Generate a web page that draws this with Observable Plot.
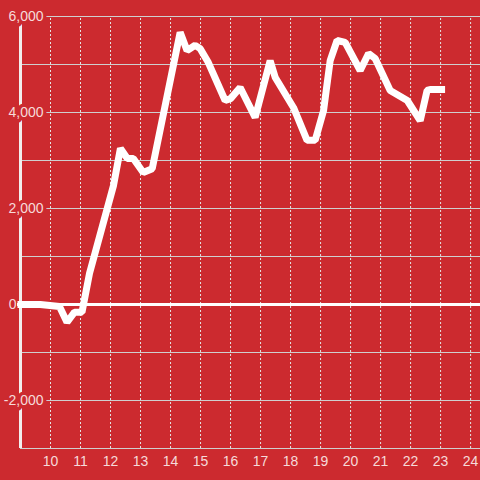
<!DOCTYPE html>
<html>
<head>
<meta charset="utf-8">
<script src="https://cdn.jsdelivr.net/npm/d3@7"></script>
<script src="https://cdn.jsdelivr.net/npm/@observablehq/plot@0.6"></script>
<style>
  html, body { margin: 0; padding: 0; background: #cc2a2f; }
</style>
</head>
<body>
<div id="chart"></div>
<script>
// Series (x = hour of day, y = value)
const hours = [8.9, 9.66, 10.3, 10.55, 10.8, 11.05, 11.3, 12.1, 12.33, 12.56, 12.76, 13.09, 13.39,
  14.32, 14.55, 14.82, 14.99, 15.26, 15.82, 16.0, 16.32, 16.82, 17.32, 17.49, 18.1, 18.55, 18.82,
  19.1, 19.32, 19.55, 19.82, 20.32, 20.6, 20.82, 21.32, 21.89, 22.32, 22.55, 22.65, 23.15];
const values = [0, 0, -40, -370, -160, -160, 650, 2480, 3250, 3040, 3040, 2750, 2830,
  5670, 5290, 5400, 5330, 5040, 4250, 4290, 4520, 3900, 5080, 4730, 4100, 3420, 3420,
  4040, 5080, 5500, 5460, 4875, 5230, 5125, 4460, 4250, 3830, 4460, 4480, 4480];

// Ticks
const xTicks = [10, 11, 12, 13, 14, 15, 16, 17, 18, 19, 20, 21, 22, 23, 24];
const yLabelTicks = [-2000, 2000, 4000, 6000];
const yTickLabels = ["-2,000", "2,000", "4,000", "6,000"];
const yMinorTicks = [-3000, -1000, 1000, 3000, 5000];

const data = hours.map((h, i) => ({x: h, y: values[i]}));
const yLabels = yLabelTicks.map((v, i) => ({v, label: yTickLabels[i]}));

const bg = "#cc2a2f";
const labelColor = "#f6dada";
const font = "Liberation Sans, Arial, sans-serif";

const chart = Plot.plot({
  width: 480,
  height: 480,
  marginLeft: 20,
  marginRight: 0,
  marginTop: 16,
  marginBottom: 32,
  style: {background: bg, fontFamily: font, overflow: "visible"},
  x: {domain: [9, 24.33], axis: null},
  y: {domain: [-3000, 6000], axis: null},
  marks: [
    Plot.ruleX(xTicks, {x: d => d, y1: -3000, y2: 6000, stroke: "#e4e4e4", strokeWidth: 1, strokeDasharray: "2,2"}),
    Plot.ruleY(yMinorTicks, {y: d => d, stroke: "#cfcfcf", strokeWidth: 1}),
    Plot.ruleY(yLabelTicks, {y: d => d, stroke: "#cfcfcf", strokeWidth: 1, insetLeft: 25}),
    Plot.ruleX([9], {x: d => d, stroke: "#f2eeee", strokeWidth: 3}),
    Plot.ruleY([0], {y: d => d, x1: 8.9, x2: 24.33, stroke: "white", strokeWidth: 3}),
    Plot.line(data, {x: "x", y: "y", stroke: "white", strokeWidth: 7, strokeLinejoin: "bevel", strokeLinecap: "butt"}),
    Plot.text(yLabels, {x: 9, y: "v", text: "label", textAnchor: "end", dx: 23, dy: 0.5,
      fontSize: 14, fill: labelColor, stroke: bg, strokeWidth: 7, paintOrder: "stroke", fontFamily: font}),
    Plot.text([0], {x: 9, y: d => d, text: d => String(d), textAnchor: "end", dx: -4, dy: 0.5,
      fontSize: 14, fill: labelColor, fontFamily: font}),
    Plot.text(xTicks, {x: d => d, y: -3000, text: d => String(d), dy: 13, fontSize: 14, fill: labelColor, fontFamily: font})
  ]
});
document.getElementById("chart").appendChild(chart);
</script>
</body>
</html>
